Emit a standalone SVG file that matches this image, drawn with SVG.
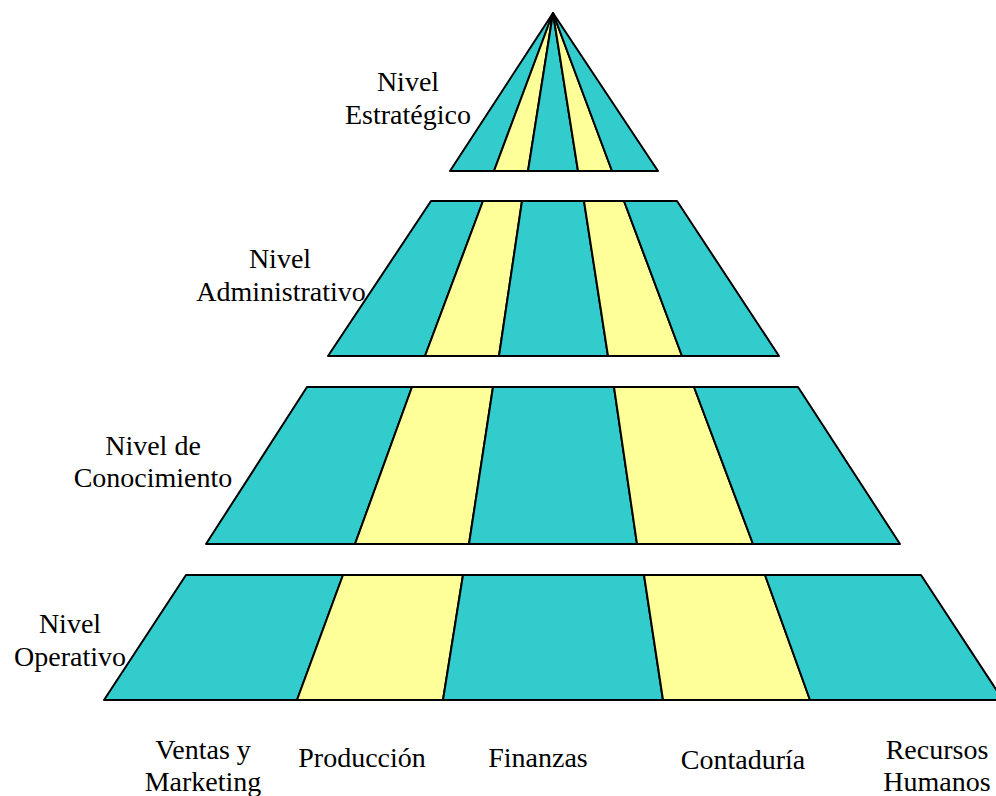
<svg xmlns="http://www.w3.org/2000/svg" width="996" height="796" viewBox="0 0 996 796">
<style>
.t{fill:#33CCCC;stroke:#000;stroke-width:2;stroke-linejoin:round}
.y{fill:#FFFF99;stroke:#000;stroke-width:2;stroke-linejoin:round}
text{font-family:"Liberation Serif","Times New Roman",serif;font-size:28px;fill:#000;text-anchor:middle}
</style>
<rect width="996" height="796" fill="#fff"/>
<g id="nivel-estrategico">
<polygon class="t" points="553,13 450,171 494,171"/>
<polygon class="y" points="553,13 494,171 528,171"/>
<polygon class="t" points="553,13 528,171 578,171"/>
<polygon class="y" points="553,13 578,171 612,171"/>
<polygon class="t" points="553,13 612,171 658,171"/>
</g>
<g id="nivel-administrativo">
<polygon class="t" points="431,201 483,201 425,356 328,356"/>
<polygon class="y" points="483,201 522,201 499,356 425,356"/>
<polygon class="t" points="522,201 584,201 608,356 499,356"/>
<polygon class="y" points="584,201 624,201 682,356 608,356"/>
<polygon class="t" points="624,201 677,201 779,356 682,356"/>
</g>
<g id="nivel-conocimiento">
<polygon class="t" points="307,387 412,387 355,544 206,544"/>
<polygon class="y" points="412,387 493,387 469,544 355,544"/>
<polygon class="t" points="493,387 614,387 637,544 469,544"/>
<polygon class="y" points="614,387 694,387 753,544 637,544"/>
<polygon class="t" points="694,387 798,387 900,544 753,544"/>
</g>
<g id="nivel-operativo">
<polygon class="t" points="186,575 343,575 297,700 104,700"/>
<polygon class="y" points="343,575 463,575 443,700 297,700"/>
<polygon class="t" points="463,575 644,575 663,700 443,700"/>
<polygon class="y" points="644,575 765,575 810,700 663,700"/>
<polygon class="t" points="765,575 921,575 1003,700 810,700"/>
</g>
<g id="labels-niveles">
<text x="408" y="91">Nivel</text>
<text x="408" y="124">Estratégico</text>
<text x="280" y="268">Nivel</text>
<text x="281" y="301">Administrativo</text>
<text x="153" y="455">Nivel de</text>
<text x="153" y="487">Conocimiento</text>
<text x="70" y="633">Nivel</text>
<text x="70" y="666">Operativo</text>
</g>
<g id="labels-areas">
<text x="203" y="759">Ventas y</text>
<text x="203" y="791">Marketing</text>
<text x="362" y="767">Producción</text>
<text x="538" y="767">Finanzas</text>
<text x="743" y="769">Contaduría</text>
<text x="937" y="759">Recursos</text>
<text x="937" y="791">Humanos</text>
</g>
</svg>
